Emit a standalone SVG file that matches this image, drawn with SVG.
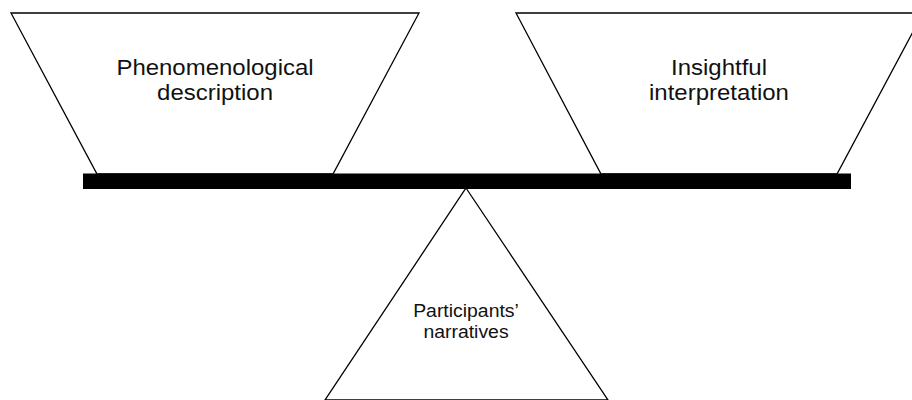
<svg xmlns="http://www.w3.org/2000/svg" width="912" height="400" viewBox="0 0 912 400">
<style>
.shape{fill:#fff;stroke:#000;stroke-width:1.3;stroke-linejoin:miter}
.bar{fill:#000}
.lbl{font-family:"Liberation Sans",Arial,sans-serif;fill:#111;text-anchor:middle}
.big{font-size:22px}
.small{font-size:18.5px}
</style>
<rect width="912" height="400" fill="#fff"/>
<g id="phenomenological">
<polygon class="shape" points="11,13 419,13 333,174 97,174"/>
<g transform="translate(215,0) scale(1.09,1)">
<text class="lbl big" x="0" y="75">Phenomenological</text>
<text class="lbl big" x="0" y="100.5">description</text>
</g>
</g>
<g id="insightful">
<polygon class="shape" points="516,13 923,13 837,174 601,174"/>
<g transform="translate(719,0) scale(1.09,1)">
<text class="lbl big" x="0" y="75">Insightful</text>
<text class="lbl big" x="0" y="100.5">interpretation</text>
</g>
</g>
<g id="participants">
<polygon class="shape" points="466,188 608,400 325,400"/>
<g transform="translate(466,0) scale(1.05,1)">
<text class="lbl small" x="0" y="317">Participants’</text>
<text class="lbl small" x="0" y="338.5">narratives</text>
</g>
</g>
<g id="beam">
<rect class="bar" x="83" y="173.5" width="768" height="15.5"/>
</g>
</svg>
